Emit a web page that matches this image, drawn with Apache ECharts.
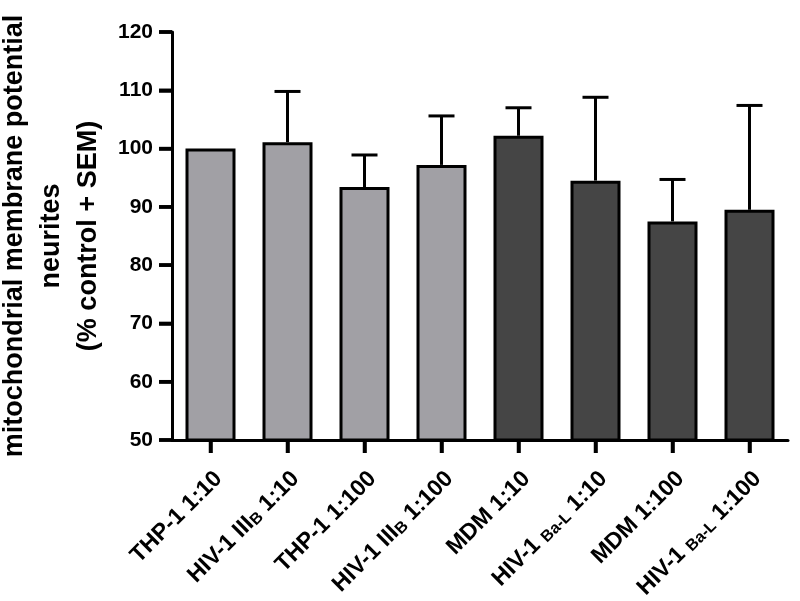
<!DOCTYPE html>
<html>
<head>
<meta charset="utf-8">
<script src="https://cdn.jsdelivr.net/npm/echarts@6/dist/echarts.min.js"></script>
<style>
  html, body { margin: 0; padding: 0; background: #fff; }
  #chart { width: 800px; height: 601px; }
</style>
</head>
<body>
<div id="chart"></div>
<script>
// categories use rich-text markup for the subscripts
const categories = [
  'THP-1 1:10',
  'HIV-1 III{sub|B} 1:10',
  'THP-1 1:100',
  'HIV-1 III{sub|B} 1:100',
  'MDM 1:10',
  'HIV-1 {small|Ba-L} 1:10',
  'MDM 1:100',
  'HIV-1 {small|Ba-L} 1:100',
]
const means = [100.0, 101.1, 93.4, 97.2, 102.2, 94.5, 87.5, 89.5]
const sem = [0, 8.7, 5.5, 8.4, 4.8, 14.3, 7.2, 17.9]
const isMdm = [false, false, false, false, true, true, true, true]
const yTicks = [50, 60, 70, 80, 90, 100, 110, 120]

const LIGHT = '#a1a0a5'
const DARK = '#454545'
const FONT = '"Liberation Sans", Arial, sans-serif'
const TICK_LEN = 13
const LINE = { stroke: '#000', lineWidth: 3.5 }

const chart = echarts.init(document.getElementById('chart'), null, { renderer: 'canvas' })

function errorBar(params, api) {
  const i = api.value(0)
  const m = api.value(1)
  const s = api.value(2)
  if (!s) return null
  const base = api.coord([i, m])
  const top = api.coord([i, m + s])
  const half = 13
  const style = { stroke: '#000', lineWidth: 3 }
  return {
    type: 'group',
    children: [
      { type: 'line', shape: { x1: base[0], y1: base[1], x2: top[0], y2: top[1] }, style },
      { type: 'line', shape: { x1: top[0] - half, y1: top[1], x2: top[0] + half, y2: top[1] }, style },
    ],
  }
}

// outside tick marks, placed through the axis scales
function xTick(params, api) {
  const p = api.coord([api.value(0), api.value(1)])
  return { type: 'line', shape: { x1: p[0], y1: p[1], x2: p[0], y2: p[1] + TICK_LEN }, style: LINE }
}
function yTick(params, api) {
  const p = api.coord([0, api.value(1)])
  const x = params.coordSys.x
  return { type: 'line', shape: { x1: x, y1: p[1], x2: x - TICK_LEN, y2: p[1] }, style: LINE }
}

chart.setOption({
  animation: false,
  grid: { left: 172, right: 12, top: 32, bottom: 161, outerBoundsMode: 'none' },
  xAxis: {
    type: 'category',
    data: categories,
    axisLine: { show: true, lineStyle: { color: '#000', width: 3 } },
    axisTick: { show: true, alignWithLabel: true, length: TICK_LEN, lineStyle: { color: '#000', width: 3.5 } },
    axisLabel: {
      interval: 0, rotate: 45, margin: 27,
      align: 'right', verticalAlign: 'top',
      color: '#000', fontWeight: 'bold', fontSize: 23, fontFamily: FONT,
      rich: {
        sub: { fontSize: 16, fontWeight: 'bold', fontFamily: FONT, color: '#000', verticalAlign: 'bottom' },
        small: { fontSize: 16, fontWeight: 'bold', fontFamily: FONT, color: '#000', verticalAlign: 'bottom' },
      },
    },
  },
  yAxis: {
    type: 'value',
    min: yTicks[0], max: yTicks[yTicks.length - 1], interval: 10,
    name: 'mitochondrial membrane potential\nneurites\n(% control + SEM)',
    nameLocation: 'middle',
    nameGap: 56,
    nameTextStyle: { color: '#000', fontWeight: 'bold', fontSize: 27, fontFamily: FONT, lineHeight: 37 },
    axisLine: { show: true, lineStyle: { color: '#000', width: 3 } },
    axisTick: { show: true, length: TICK_LEN, lineStyle: { color: '#000', width: 3.5 } },
    axisLabel: { color: '#000', fontWeight: 'bold', fontSize: 21, fontFamily: FONT, margin: 19 },
    splitLine: { show: false },
  },
  series: [
    {
      type: 'bar',
      barWidth: 50,
      data: means.map((v, i) => ({
        value: v,
        itemStyle: { color: isMdm[i] ? DARK : LIGHT, borderColor: '#000', borderWidth: 3 },
      })),
    },
    {
      type: 'custom',
      renderItem: errorBar,
      z: 5,
      data: means.map((v, i) => [i, v, sem[i]]),
    },
    {
      type: 'custom',
      renderItem: xTick,
      silent: true,
      clip: false,
      data: categories.map((c, i) => [i, yTicks[0]]),
    },
    {
      type: 'custom',
      renderItem: yTick,
      silent: true,
      clip: false,
      data: yTicks.map((v) => [0, v]),
    },
  ],
})
</script>
</body>
</html>
